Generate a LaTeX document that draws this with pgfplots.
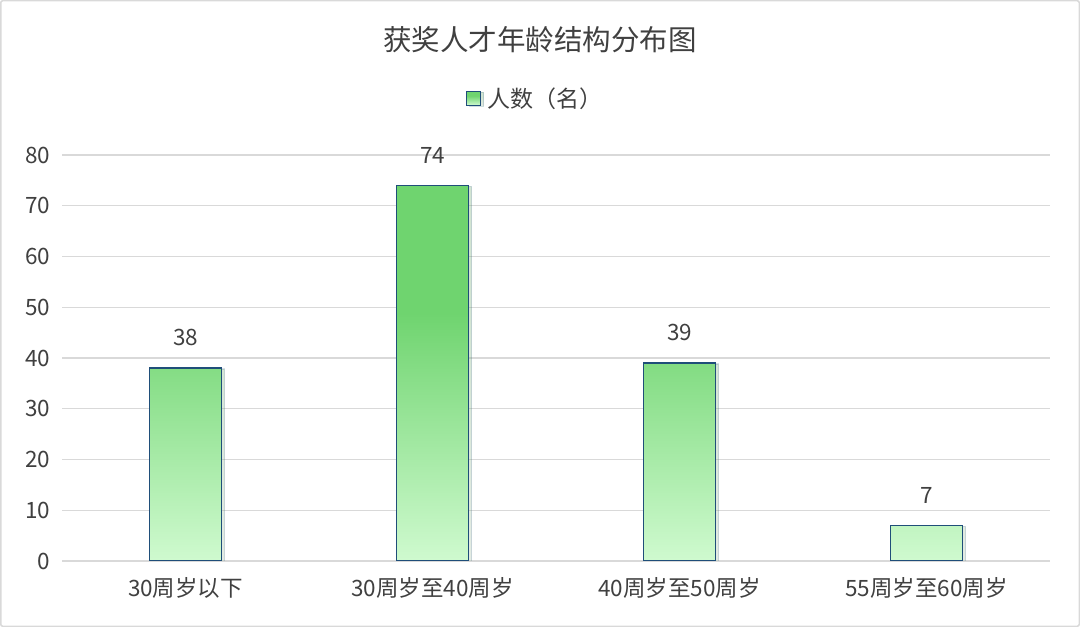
\documentclass[border=0pt]{standalone}
\usepackage{fontspec}
\setmainfont{Noto Sans CJK SC}
\usepackage{pgfplots}
\pgfplotsset{compat=1.18}
\usetikzlibrary{shadows}

\definecolor{txt}{HTML}{404040}
\definecolor{gridc}{HTML}{D9D9D9}
\definecolor{edge}{HTML}{1F4E79}
\definecolor{bargreen}{HTML}{6FD46F}
\definecolor{barlight}{HTML}{CFFACF}
\pgfdeclareverticalshading{barshade}{100bp}{color(0bp)=(barlight); color(25bp)=(barlight); color(58bp)=(bargreen); color(100bp)=(bargreen)}

\newcommand{\fs}[1]{\fontsize{#1bp}{#1bp}\selectfont}

\begin{document}
\begin{tikzpicture}
\draw[gridc, line width=1.5bp, rounded corners=2bp, use as bounding box] (0.75bp,0.75bp) rectangle (1079.25bp,626.25bp);
\node[txt, font=\fs{28.5}] at (540bp,587bp) {获奖人才年龄结构分布图};
\begin{axis}[
    at={(62bp,66bp)}, anchor=south west,
    scale only axis,
    width=988bp, height=406bp,
    xmin=-0.5, xmax=3.5,
    ymin=0, ymax=80,
    ytick={0,10,...,80},
    xtick={0,1,2,3},
    xticklabels={30周岁以下, 30周岁至40周岁, 40周岁至50周岁, 55周岁至60周岁},
    axis line style={draw=none},
    major tick style={draw=none},
    ymajorgrids=true,
    grid style={gridc, line width=1.2bp},
    tick label style={txt, font=\fs{22.5}},
    /pgf/number format/assume math mode=true,
    yticklabel style={xshift=-8bp},
    xticklabel style={yshift=-9bp},
    ybar, bar width=72bp,
    nodes near coords,
    every node near coord/.append style={txt, font=\fs{22.5}, yshift=18bp},
    legend style={at={(0.479,1.14)}, anchor=center, draw=none, fill=none,
        font=\fs{23}, text=txt},
    legend image code/.code={\draw[#1, shading=barshade, draw=edge, line width=1bp] (0bp,-7bp) rectangle (14bp,7bp);},
]
\addplot[draw=edge, line width=1.3bp, shading=barshade,
    drop shadow={shadow xshift=3bp, shadow yshift=-1bp, opacity=0.18, fill=gray}]
    coordinates {(0,38) (1,74) (2,39) (3,7)};
\legend{\hspace{4bp}人数（名）}
\end{axis}
\end{tikzpicture}
\end{document}
